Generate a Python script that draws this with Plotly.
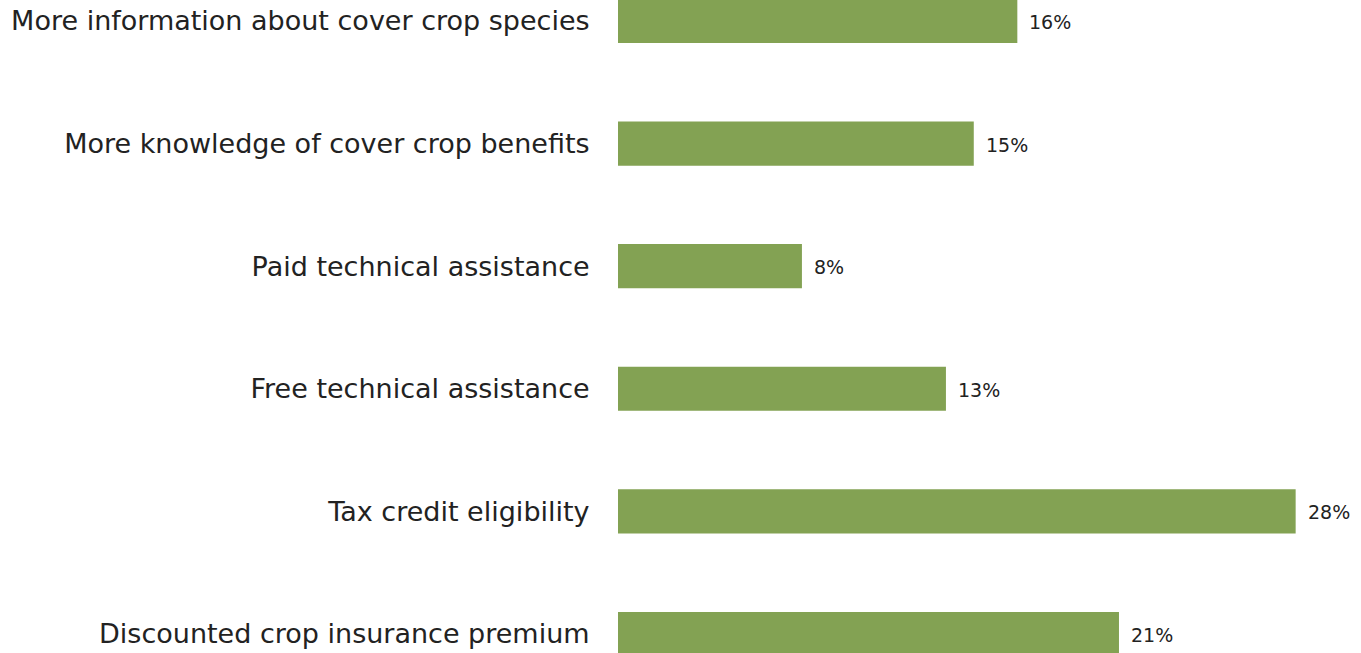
import plotly.graph_objects as go

categories = [
    "More information about cover crop species",
    "More knowledge of cover crop benefits",
    "Paid technical assistance",
    "Free technical assistance",
    "Tax credit eligibility",
    "Discounted crop insurance premium",
]
values = [16.5, 14.7, 7.6, 13.55, 28.0, 20.7]
labels = ["16%", "15%", "8%", "13%", "28%", "21%"]

BAR = "#83a253"
TXT = "#222222"

fig = go.Figure(go.Bar(
    y=categories, x=values, orientation="h",
    marker=dict(color=BAR, line=dict(width=0)),
    width=0.36, hoverinfo="skip",
))

for c, v, t in zip(categories, values, labels):
    fig.add_annotation(x=v, y=c, text=t, showarrow=False, xanchor="left",
                       xshift=10, yshift=-1,
                       font=dict(family="DejaVu Sans", size=19, color=TXT))

fig.update_layout(
    width=1361, height=653,
    margin=dict(l=618, r=0, t=0, b=0),
    paper_bgcolor="white", plot_bgcolor="white",
    showlegend=False,
    xaxis=dict(range=[0, 30.7], visible=False, fixedrange=True),
    yaxis=dict(
        type="category", categoryorder="array", categoryarray=categories,
        range=[5.155, -0.171], showgrid=False, zeroline=False, showline=False,
        ticks="outside", ticklen=22, tickcolor="rgba(0,0,0,0)",
        tickfont=dict(family="DejaVu Sans", size=27, color=TXT),
        automargin=False, fixedrange=True,
    ),
)

fig.write_html("out.html", config={"displayModeBar": False},
               post_script="document.body.style.margin='0';")
